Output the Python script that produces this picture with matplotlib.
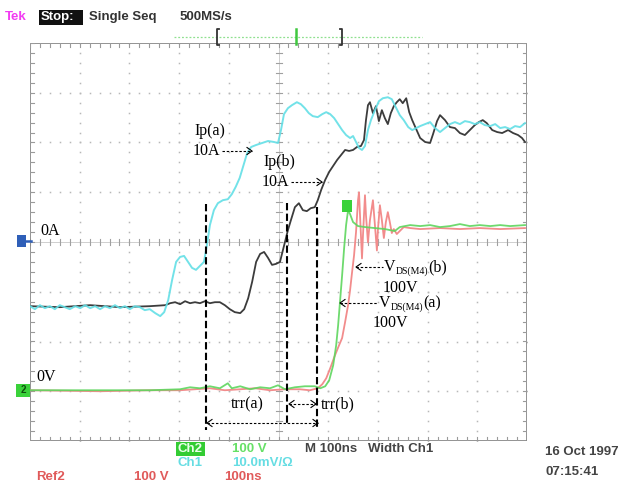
import matplotlib
matplotlib.use("Agg")
import matplotlib.pyplot as plt
from matplotlib.lines import Line2D
from matplotlib.patches import Rectangle
import numpy as np

# ---------------- scope traces (time in ns, 100 ns/div) ----------------
# Ch1 current probe, 10 A/div, Ip(a)
t_ip_a = [0, 10, 20, 30, 40, 50, 60, 70, 80, 91, 101, 111, 121, 131, 141, 151, 161, 171, 181, 191,
          201, 211, 221, 231, 241, 252, 262, 270, 278, 286, 294, 302, 310, 318, 326, 334, 342, 350,
          356, 362, 370, 378, 388, 398, 406, 414, 422, 431, 437, 445, 455,
          467, 479, 491, 499, 505, 511, 519, 527, 537, 545, 553, 561, 569,
          579, 588, 596, 604, 612, 620, 628, 636, 644, 650, 656, 662, 668,
          674, 680, 686, 694, 702, 710, 720, 728, 736, 744, 752, 761, 769,
          777, 785, 795, 805, 815, 825, 835, 845, 855, 865, 875, 885, 895,
          905, 915, 926, 936, 946, 956, 966, 976, 986, 996]
i_ip_a = [-12.9, -13.5, -12.7, -13.3, -12.9, -13.5, -12.7, -13.1, -13.5, -12.9, -13.3, -12.7, -13.3,
          -12.9, -13.5, -12.9, -13.3, -12.7, -13.3, -12.9, -13.5, -12.9, -13.1, -13.7, -13.5,
          -14.3, -14.9, -14.1, -11.7, -7.6, -4.0, -3.0, -2.8, -4.0, -5.2, -5.6, -4.8, -4.0,
          -0.6, 3.4, 6.4, 7.8, 8.4, 8.6, 9.6, 11.1, 12.9, 15.9, 17.9, 19.1, 19.5,
          19.9, 20.3, 20.1, 19.9, 22.5, 25.7, 26.9, 27.5, 28.1, 27.7, 26.9, 25.9, 25.3,
          25.1, 25.7, 26.1, 25.7, 24.9, 23.7, 22.5, 21.5, 20.9, 21.3, 20.1, 18.9, 18.5,
          19.3, 22.5, 24.5, 26.5, 28.3, 28.9, 29.1, 28.7, 27.1, 25.5, 24.5, 23.1, 22.5,
          22.9, 23.3, 23.7, 24.1, 22.9, 22.1, 22.9, 23.7, 24.1, 23.7, 24.3, 24.1, 23.7,
          24.1, 23.5, 23.3, 23.7, 22.9, 23.1, 22.7, 23.3, 23.1, 23.9]

# Ip(b)
t_ip_b = [0, 60, 121, 181, 241, 272, 282, 292, 302, 312, 322, 332, 342, 352, 362, 372, 382, 392,
          402, 412, 423, 431, 439, 447, 455, 463, 471, 479, 487, 495, 503, 511, 519, 525, 533,
          541, 549, 557, 565, 573, 579, 586, 594, 602, 610, 618, 626, 634, 642, 650, 658, 666,
          672, 676, 680, 684, 690, 696, 702, 708, 714, 720, 726, 732, 738, 744, 750, 757, 763,
          769, 777, 785, 795, 805, 811, 819, 825, 835, 845, 855, 865, 875, 885, 895, 903, 911,
          919, 930, 940, 950, 962, 972, 982, 990, 996]
i_ip_b = [-12.9, -13.1, -12.7, -13.1, -12.9, -12.7, -12.3, -12.1, -12.5, -11.9, -12.3, -12.1, -12.3,
          -11.9, -12.3, -12.1, -12.1, -12.7, -13.5, -14.1, -14.3, -13.5, -11.3, -8.0, -4.0, -2.4,
          -2.0, -3.2, -4.6, -4.4, -4.0, -0.8, 2.4, 4.4, 7.0, 7.8, 6.4, 6.2, 6.8, 7.0, 8.4, 10.5,
          12.5, 14.1, 15.3, 16.5, 17.5, 18.5, 18.3, 18.5, 19.1, 19.3, 20.5, 24.5, 27.5, 28.1,
          25.9, 27.3, 24.3, 26.5, 24.9, 23.7, 25.9, 27.3, 28.1, 28.7, 27.9, 28.9, 26.1, 24.5,
          22.7, 20.9, 20.1, 19.9, 21.7, 24.3, 25.5, 24.5, 23.1, 22.9, 21.9, 21.5, 22.5, 23.5,
          24.1, 24.5, 23.9, 22.5, 22.1, 21.9, 22.5, 21.9, 21.5, 20.9, 20.1]

# Ch2 drain-source voltage, 100 V/div, V_DS(M4)(a)
t_vds_a = [0, 141, 241, 302, 322, 342, 362, 382, 398, 406, 423, 443, 463,
           483, 499, 513, 533, 553, 573, 584, 594, 602, 610, 616, 620, 624,
           628, 632, 636, 640, 644, 650, 660, 674, 694, 714, 734, 744, 765,
           785, 805, 825, 845, 865, 885, 905, 926, 946, 966, 996]
v_vds_a = [2, 2, 2, 4, 8, 6, 10, 6, 16, 6, 10, 4, 8,
           6, 12, 4, 8, 10, 10, 6, 10, 22, 52, 92, 133, 183,
           233, 287, 334, 364, 356, 340, 332, 330, 328, 326, 322, 330, 334,
           332, 334, 330, 332, 336, 332, 334, 332, 334, 332, 334]

# Ref2, V_DS(M4)(b)
t_vds_b = [0, 141, 241, 302, 332, 362, 392, 423, 453, 483, 513, 543, 563,
           579, 588, 596, 604, 612, 620, 628, 634, 640, 644, 648, 652, 656,
           660, 662, 664, 668, 670, 674, 676, 680, 684, 690, 694, 698, 700,
           704, 708, 712, 716, 720, 724, 728, 732, 738, 744, 752, 765, 785,
           825, 865, 905, 946, 996]
v_vds_b = [2, 0, 2, 2, 4, 6, 2, 4, 6, 2, 4, 4, 2,
           6, 14, 26, 46, 68, 88, 107, 139, 173, 203, 239, 273, 320,
           384, 400, 354, 267, 314, 394, 354, 299, 344, 384, 334, 283, 324,
           374, 344, 308, 340, 360, 340, 318, 326, 316, 322, 330, 328, 326,
           328, 326, 328, 326, 328]

AMPS_PER_DIV = 10.0
VOLTS_PER_DIV = 100.0
CH2_GROUND_DIV = -3.0

# ---------------- figure ----------------
W, H = 630, 483
fig = plt.figure(figsize=(W / 100, H / 100), dpi=100)
fig.patch.set_facecolor("white")
GL, GR, GT, GB = 30, 527, 43, 441
ax = fig.add_axes([GL / W, 1 - GB / H, (GR - GL) / W, (GB - GT) / H])
ax.set_xlim(0, 1000)
ax.set_ylim(-4, 4)
ax.axis("off")

grid_c = "#b8b8b8"
px_x = 1000 / (GR - GL)
px_y = 8 / (GB - GT)

# dotted graticule
fine_x = np.arange(0, 1000.1, 20)
fine_y = np.arange(-4, 4.01, 0.2)
for gx in range(100, 1000, 100):
    if gx == 500:
        continue
    ax.plot([gx] * len(fine_y), fine_y, ls="none", marker="s", ms=1.1, color=grid_c, mew=0)
for gy in [-3, -2, -1, 1, 2, 3]:
    ax.plot(fine_x, [gy] * len(fine_x), ls="none", marker="s", ms=1.1, color=grid_c, mew=0)

# centre cross with minor ticks
ax.plot([500, 500], [-4, 4], color="#c8c8c8", lw=0.6)
ax.plot([0, 1000], [0, 0], color="#c8c8c8", lw=0.6)
for xx in fine_x:
    ax.plot([xx, xx], [-3 * px_y, 3 * px_y], color="#a0a0a0", lw=0.8)
for yy in fine_y:
    ax.plot([500 - 3 * px_x, 500 + 3 * px_x], [yy, yy], color="#a0a0a0", lw=0.8)

# border with ticks
ax.plot([0, 1000, 1000, 0, 0], [-4, -4, 4, 4, -4], color="#8a8a8a", lw=1.3)
for xx in fine_x:
    ax.plot([xx, xx], [4, 4 - 4 * px_y], color="#9a9a9a", lw=0.8)
    ax.plot([xx, xx], [-4, -4 + 4 * px_y], color="#9a9a9a", lw=0.8)
for yy in fine_y:
    ax.plot([0, 4 * px_x], [yy, yy], color="#9a9a9a", lw=0.8)
    ax.plot([1000, 1000 - 4 * px_x], [yy, yy], color="#9a9a9a", lw=0.8)

# traces
vb = [CH2_GROUND_DIV + v / VOLTS_PER_DIV for v in v_vds_b]
va = [CH2_GROUND_DIV + v / VOLTS_PER_DIV for v in v_vds_a]
ax.plot(t_vds_b, vb, color="#f28c8c", lw=1.3)
ax.plot(t_vds_a, va, color="#5ed65e", lw=1.3, alpha=0.9)
ax.plot(t_ip_b, [i / AMPS_PER_DIV for i in i_ip_b], color="#3c3c3c", lw=1.3)
ax.plot(t_ip_a, [i / AMPS_PER_DIV for i in i_ip_a], color="#63dfe6", lw=1.4, alpha=0.9)


# ---------------- annotation helpers (figure pixels, y down) ----------------
def fline(xs, ys, **kw):
    fig.add_artist(Line2D([x / W for x in xs], [1 - y / H for y in ys],
                          transform=fig.transFigure, **kw))


def ftext(x, y, s, **kw):
    kw.setdefault("va", "center")
    kw.setdefault("ha", "left")
    return fig.text(x / W, 1 - y / H, s, **kw)


def harrow(x0, x1, y, left=False, right=True):
    fline([x0, x1], [y, y], color="k", lw=0.8, ls=(0, (2.2, 1.6)))
    if right:
        fline([x1 - 5, x1, x1 - 5], [y - 3.5, y, y + 3.5], color="k", lw=0.8)
    if left:
        fline([x0 + 5, x0, x0 + 5], [y - 3.5, y, y + 3.5], color="k", lw=0.8)


serif = dict(family="Liberation Serif", fontsize=11.5, color="k")
renderer = fig.canvas.get_renderer()


def vds_label(x, y, tail):
    t = ftext(x, y, "V", **serif)
    x_end = t.get_window_extent(renderer).x1
    s = ftext(x_end, y + 4, "DS(M4)", family="Liberation Serif", fontsize=7, color="k")
    x_end = s.get_window_extent(renderer).x1
    ftext(x_end, y, tail, **serif)


# trr markers
dash = dict(color="k", lw=1.5, ls=(0, (3.5, 1.6)))
fline([206, 206], [204, 430], **dash)
fline([287, 287], [203, 424], **dash)
fline([317, 317], [207, 430], **dash)
ftext(247, 404, "trr(a)", ha="center", **serif)
harrow(289, 316, 404, left=True, right=True)
ftext(321, 404, "trr(b)", **serif)
harrow(207, 318, 423, left=True, right=True)

ftext(194, 131, "Ip(a)", **serif)
ftext(193, 151, "10A", **serif)
harrow(222, 252, 151)
ftext(263, 162, "Ip(b)", **serif)
ftext(262, 182, "10A", **serif)
harrow(291, 322, 182)
ftext(40, 231, "0A", **serif)
ftext(36, 377, "0V", **serif)

harrow(356, 383, 267, left=True, right=False)
vds_label(384, 267, "(b)")
ftext(383, 288, "100V", **serif)
harrow(340, 378, 303, left=True, right=False)
vds_label(379, 303, "(a)")
ftext(373, 323, "100V", **serif)

# ---------------- scope readouts ----------------
scope = dict(family="Liberation Sans", fontsize=9.5, fontweight="bold")
ftext(5, 17, "Tek", color="#f23cf2", **scope)
fig.add_artist(Rectangle((39 / W, 1 - 25 / H), 44 / W, 15 / H, transform=fig.transFigure,
                         color="#111111", lw=0))
ftext(41, 17, "Stop:", color="white", **scope)
ftext(89, 17, "Single Seq", color="#333333", **scope)
ftext(180, 17, "500MS/s", color="#333333", **scope)

fline([174, 422], [37, 37], color="#8fe08f", lw=0.9, ls=(0, (1.5, 1.5)))
fline([219, 217, 217, 219], [29, 29, 45, 45], color="#333333", lw=1.3)
fline([296, 296], [29, 44], color="#3fc83f", lw=1.8)
fline([340, 342, 342, 340], [29, 29, 45, 45], color="#333333", lw=1.3)

# channel ground markers
fig.add_artist(Rectangle((17 / W, 1 - 247 / H), 9 / W, 12 / H, transform=fig.transFigure,
                         color="#2f5fb8", lw=0))
fline([25, 31], [241, 241], color="#2f5fb8", lw=1.8)
fig.add_artist(Rectangle((16 / W, 1 - 397 / H), 14 / W, 13 / H, transform=fig.transFigure,
                         color="#3ad23a", lw=0))
ftext(23, 390, "2", ha="center", color="#0d4d0d", family="Liberation Sans",
      fontsize=7, fontweight="bold")
fig.add_artist(Rectangle((342 / W, 1 - 212 / H), 10 / W, 12 / H, transform=fig.transFigure,
                         color="#3ad23a", lw=0))

# bottom readouts
fig.add_artist(Rectangle((176 / W, 1 - 456 / H), 29 / W, 14 / H, transform=fig.transFigure,
                         color="#33cc33", lw=0))
ftext(178, 449, "Ch2", color="#eaffea", **scope)
ftext(232, 449, "100 V", color="#66e066", **scope)
ftext(305, 449, "M 100ns   Width Ch1", color="#444444", **scope)
ftext(178, 463, "Ch1", color="#66dde3", **scope)
ftext(232, 463, "10.0mV/\u03a9", color="#66dde3", **scope)
ftext(36, 477, "Ref2", color="#e05a5a", **scope)
ftext(134, 477, "100 V", color="#e05a5a", **scope)
ftext(224, 477, "100ns", color="#e05a5a", **scope)
ftext(545, 452, "16 Oct 1997", color="#444444", **scope)
ftext(545, 472, "07:15:41", color="#444444", **scope)

fig.savefig("out.png", dpi=100, facecolor="white")
